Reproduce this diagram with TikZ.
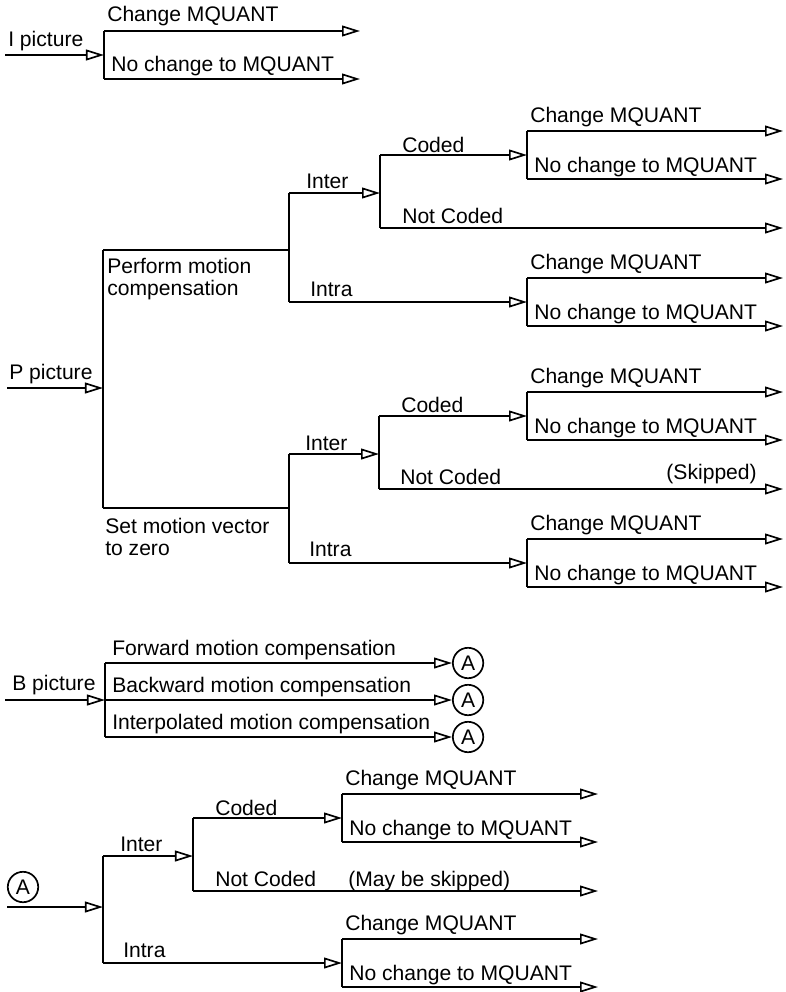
\documentclass[tikz,border=0pt]{standalone}
\usepackage{fontspec}
\setmainfont{Liberation Sans}
\usetikzlibrary{calc,arrows.meta,positioning}
\newcommand\lblfont{\fontsize{15pt}{15.6pt}\selectfont}
\tikzset{
  wire/.style={line width=1.35pt},
  arr/.style={wire, -{Triangle[open, length=4.5mm, width=2.7mm, line width=1.2pt]}},
  lbl/.style={anchor=base west, inner sep=0pt, font=\lblfont},
  conn/.style={draw, circle, line width=1.2pt, minimum size=7.6mm, inner sep=0pt, font=\lblfont}
}

\begin{document}
\begin{tikzpicture}[x=0.025cm, y=-0.025cm]
  \useasboundingbox (0,0) rectangle (785,992);

  % the "Change MQUANT / No change to MQUANT" forks
  \foreach \n/\x/\y/\xe in {q0/104/55/360, q1/527/155/783, q2/527/302/783,
      q3/527/416/783, q4/527/563/783, q5/342/818/598, q6/342/963/598} {
    \coordinate (\n-in) at (\x,\y);
    \coordinate (\n-hi) at ($(\n-in)+(0,-24)$);
    \coordinate (\n-lo) at ($(\n-in)+(0,24)$);
    \coordinate (\n-end) at (\xe,\y);
    \draw[wire] (\n-hi) -- (\n-lo);
    \draw[arr] (\n-hi) -- (\n-hi -| \n-end);
    \draw[arr] (\n-lo) -- (\n-lo -| \n-end);
    \node[lbl] (\n-chg) at ($(\n-hi)+(3,-9)$) {Change MQUANT};
    \node[lbl] (\n-keep) at ($(\n-lo)+(7,-7)$) {No change to MQUANT};
  }

  % I picture
  \coordinate (iin) at (5,55);
  \draw[arr] (iin) -- (q0-in);
  \node[lbl] (itxt) at (8,47) {I picture};

  % P picture
  \coordinate (pin) at (7,388);
  \coordinate (pfork) at (103,388);
  \coordinate (pa) at (103,250);
  \coordinate (pb) at (103,508);
  \draw[arr] (pin) -- (pfork);
  \draw[wire] (pa) -- (pb);
  \node[lbl] (ptxt) at (9,379) {P picture};

  % with motion compensation
  \coordinate (m1) at (289,250);
  \coordinate (m1-inter) at (289,193);
  \coordinate (m1-intra) at (289,302);
  \coordinate (c1) at (380,193);
  \coordinate (c1-hi) at (380,155);
  \coordinate (c1-lo) at (380,228);
  \coordinate (c1-end) at (783,228);
  \draw[wire] (pa) -- (m1);
  \draw[wire] (m1-inter) -- (m1-intra);
  \draw[arr] (m1-inter) -- (c1);
  \draw[arr] (m1-intra) -- (q2-in);
  \draw[wire] (c1-hi) -- (c1-lo);
  \draw[arr] (c1-hi) -- (q1-in);
  \draw[arr] (c1-lo) -- (c1-end);
  % base of a two-line label is its last line
  \node[lbl, align=left] (mc) at (107,295) {Perform motion\\compensation};
  \node[lbl] (m1-t1) at (306,188) {Inter};
  \node[lbl] (m1-t2) at (310,296) {Intra};
  \node[lbl] (c1-t1) at (402,152) {Coded};
  \node[lbl] (c1-t2) at (402,223) {Not Coded};

  % with zero motion vector
  \coordinate (m2) at (289,508);
  \coordinate (m2-inter) at (289,454);
  \coordinate (m2-intra) at (289,563);
  \coordinate (c2) at (379,454);
  \coordinate (c2-hi) at (379,416);
  \coordinate (c2-lo) at (379,489);
  \coordinate (c2-end) at (783,489);
  \draw[wire] (pb) -- (m2);
  \draw[wire] (m2-inter) -- (m2-intra);
  \draw[arr] (m2-inter) -- (c2);
  \draw[arr] (m2-intra) -- (q4-in);
  \draw[wire] (c2-hi) -- (c2-lo);
  \draw[arr] (c2-hi) -- (q3-in);
  \draw[arr] (c2-lo) -- (c2-end);
  \node[lbl, align=left] (zmv) at (105,555) {Set motion vector\\to zero};
  \node[lbl] (m2-t1) at (305,450) {Inter};
  \node[lbl] (m2-t2) at (309,556) {Intra};
  \node[lbl] (c2-t1) at (401,412) {Coded};
  \node[lbl] (c2-t2) at (400,484) {Not Coded};
  \node[lbl, anchor=base east] (skip) at (757,479) {(Skipped)};

  % B picture
  \coordinate (bin) at (5,700);
  \coordinate (bfork) at (105,700);
  \coordinate (bhi) at (105,663);
  \coordinate (blo) at (105,737);
  \draw[arr] (bin) -- (bfork);
  \draw[wire] (bhi) -- (blo);
  \node[lbl] (btxt) at (12,690) {B picture};
  \foreach \i/\y/\txt in {1/663/Forward, 2/700/Backward, 3/737/Interpolated} {
    \node[conn, anchor=west] (ba\i) at (452,\y) {A};
    \draw[arr] (105,\y) -- (ba\i);
    \node[lbl] (bt\i) at (112,\y-8) {\txt\ motion compensation};
  }

  % continuation from A
  \node[conn] (a0) at (23,887) {A};
  \coordinate (ain) at (7,907);
  \coordinate (afork) at (103,907);
  \coordinate (a-inter) at (103,856);
  \coordinate (a-intra) at (103,963);
  \coordinate (c3) at (193,856);
  \coordinate (c3-hi) at (193,818);
  \coordinate (c3-lo) at (193,891);
  \coordinate (c3-end) at (598,891);
  \draw[arr] (ain) -- (afork);
  \draw[wire] (a-inter) -- (a-intra);
  \draw[arr] (a-inter) -- (c3);
  \draw[arr] (a-intra) -- (q6-in);
  \draw[wire] (c3-hi) -- (c3-lo);
  \draw[arr] (c3-hi) -- (q5-in);
  \draw[arr] (c3-lo) -- (c3-end);
  \node[lbl] (a-t1) at (120,851) {Inter};
  \node[lbl] (a-t2) at (123,957) {Intra};
  \node[lbl] (c3-t1) at (215,815) {Coded};
  \node[lbl] (c3-t2) at (215,886) {Not Coded};
  \node[lbl] (mayskip) at (348,886) {(May be skipped)};
\end{tikzpicture}
\end{document}
